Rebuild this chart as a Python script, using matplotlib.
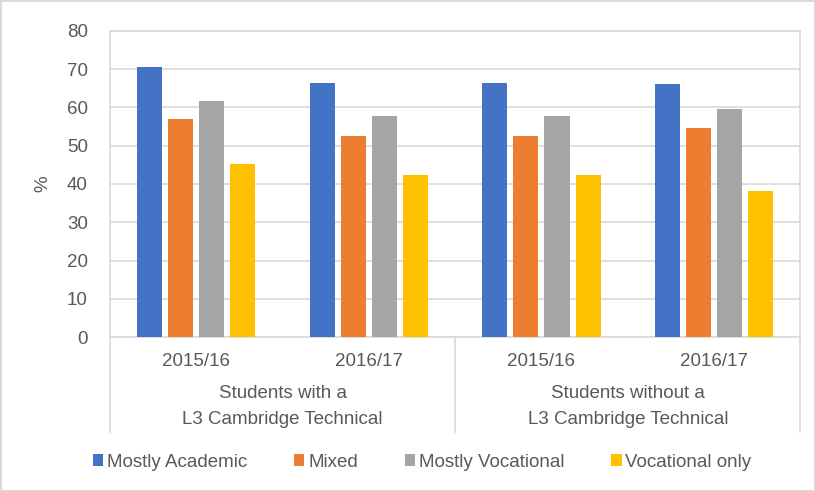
import numpy as np
import matplotlib.pyplot as plt
from matplotlib.lines import Line2D

plt.rcParams["font.family"] = ["Liberation Sans", "DejaVu Sans"]

years = ["2015/16", "2016/17", "2015/16", "2016/17"]
groups = ["Students with a\nL3 Cambridge Technical", "Students without a\nL3 Cambridge Technical"]
series = ["Mostly Academic", "Mixed", "Mostly Vocational", "Vocational only"]
colors = ["#4472c4", "#ed7d31", "#a5a5a5", "#ffc000"]

mostly_academic = [70.5, 66.3, 66.3, 66.1]
mixed = [57.1, 52.6, 52.6, 54.5]
mostly_vocational = [61.7, 57.7, 57.7, 59.5]
vocational_only = [45.3, 42.4, 42.4, 38.2]

values = [mostly_academic, mixed, mostly_vocational, vocational_only]

text_color = "#595959"
grid_color = "#d9d9d9"
fs = 13.5

fig = plt.figure(figsize=(8.15, 4.91), dpi=100)
fig.patch.set_edgecolor(grid_color)
fig.patch.set_linewidth(2)

ax = fig.add_axes([0.135, 0.3136, 0.847, 0.6234])

x = np.arange(len(years))
width = 0.145
step = 0.18

for i, (name, vals, color) in enumerate(zip(series, values, colors)):
    offset = (i - 1.5) * step
    ax.bar(x + offset, vals, width, color=color, label=name, zorder=3)

ax.set_xlim(-0.5, len(years) - 0.5)
ax.set_ylim(0, 80)
ax.set_yticks(range(0, 81, 10))
ax.tick_params(axis="y", length=0, labelsize=fs, labelcolor=text_color, pad=16)
ax.set_xticks([])
ax.yaxis.grid(True, color=grid_color, linewidth=1.2, zorder=0)
for side in ["left", "right", "top", "bottom"]:
    ax.spines[side].set_color(grid_color)
    ax.spines[side].set_linewidth(1.2)

ax.set_ylabel("%", fontsize=fs, color=text_color)
ax.yaxis.set_label_coords(-0.085, 0.5)

# year labels under each group
for xi, year in zip(x, years):
    ax.text(xi, -0.08, year, transform=ax.get_xaxis_transform(),
            ha="center", va="center", fontsize=fs, color=text_color)

# outer group labels
for gi, label in enumerate(groups):
    ax.text(0.25 + 0.5 * gi, -0.227, label, transform=ax.transAxes,
            ha="center", va="center", fontsize=fs, color=text_color,
            linespacing=1.65)

# separators below axis
for xf in [0.0, 0.5, 1.0]:
    ax.add_line(Line2D([xf, xf], [0, -0.31], transform=ax.transAxes,
                       color=grid_color, linewidth=1.2, clip_on=False))

fig.legend(loc="center", bbox_to_anchor=(0.518, 0.059), ncol=4,
           frameon=False, fontsize=fs, labelcolor=text_color,
           handlelength=0.55, handleheight=0.55, handletextpad=0.2,
           columnspacing=2.5)

fig.savefig("out.png", dpi=100, edgecolor=fig.get_edgecolor())
